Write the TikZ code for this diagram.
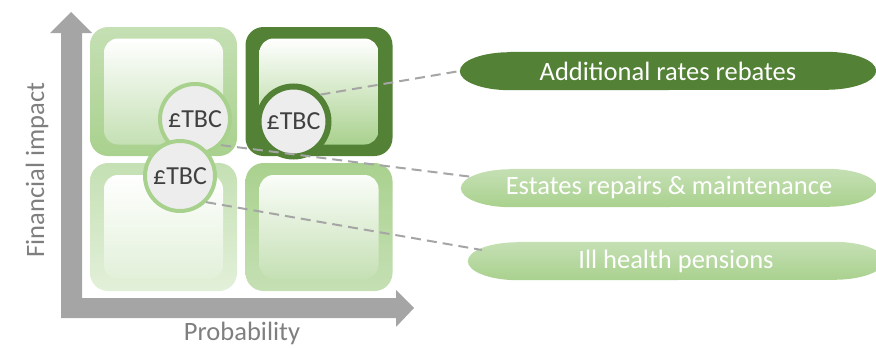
\documentclass[tikz,border=0pt]{standalone}
\usepackage{fontspec}
\setmainfont{Carlito}
\usetikzlibrary{backgrounds}

\definecolor{lgreen}{HTML}{A9D18E}
\definecolor{pgreen}{HTML}{C5E0B4}
\definecolor{vpale}{HTML}{E2F0D9}
\definecolor{dgreen}{HTML}{538135}
\definecolor{axgray}{HTML}{A5A5A5}
\definecolor{labgray}{HTML}{7F7F7F}
\definecolor{txtgray}{HTML}{404040}
\definecolor{circfill}{HTML}{EDEDED}

\newcommand\pill[2]{%
  \path[#2] ([xshift=50pt]#1.north west) -- ([xshift=-50pt]#1.north east)
    arc[start angle=90, end angle=-90, x radius=50pt, y radius=19pt]
    -- ([xshift=50pt]#1.south west)
    arc[start angle=270, end angle=90, x radius=50pt, y radius=19pt] -- cycle;}

\tikzset{
  frame/.style={rounded corners=18pt, minimum width=147pt, minimum height=129pt, inner sep=0pt},
  pane/.style={rounded corners=14pt, minimum width=119pt, minimum height=106pt, inner sep=0pt},
  cost/.style={circle, fill=circfill, line width=4pt, minimum size=70pt, inner sep=0pt,
    text=txtgray, font=\fontsize{26}{26}\selectfont},
  risk/.style={minimum width=416pt, minimum height=38pt, inner sep=0pt,
    text=white, font=\fontsize{26.5}{26.5}\selectfont},
  axislabel/.style={text=labgray, font=\fontsize{26.5}{26.5}\selectfont},
  link/.style={draw=axgray, line width=2pt, dash pattern=on 10pt off 6pt}
}

\begin{document}
\begin{tikzpicture}[x=1pt, y=-1pt]
    \useasboundingbox (0,0) rectangle (876,348);
    \fill[axgray] (61,318) -- (61,33) -- (50,33) -- (71,12) -- (92,33) -- (82,33) -- (82,298)
      -- (396,298) -- (396,290) -- (414,308) -- (396,327) -- (396,318) -- cycle;
    \node[axislabel, rotate=90] (yaxis) at (37,170) {Financial impact};
    \node[axislabel] (xaxis) at (242,333) {Probability};

    \node[frame, top color=pgreen, bottom color=lgreen] (hl) at (163.5,91.5) {};
    \node[pane, top color=white, bottom color=pgreen] at (hl) {};
    \node[frame, fill=dgreen] (hh) at (319,91.5) {};
    \node[pane, top color=white, bottom color=lgreen] at (hh) {};
    \node[frame, minimum height=128pt, top color=pgreen, bottom color=vpale] (ll) at (163.5,227) {};
    \node[pane, minimum height=104pt, top color=white, bottom color=vpale] at (ll) {};
    \node[frame, minimum height=128pt, top color=lgreen, bottom color=pgreen] (lh) at (319,227) {};
    \node[pane, minimum height=104pt, top color=white!92!pgreen, bottom color=pgreen] at (lh) {};

    \node[cost, draw=lgreen] (c1) at (195,119) {£TBC};
    \node[cost, draw=dgreen, line width=6pt] (c2) at (293.5,121.5) {£TBC};
    \node[cost, draw=lgreen] (c3) at (180,176) {£TBC};

    \node[risk] (e1) at (668,71) {Additional rates rebates};
    \node[risk] (e2) at (669,188) {Estates repairs \& maintenance};
    \node[risk] (e3) at (676,261) {Ill health pensions};
    \begin{scope}[on background layer]
      \pill{e1}{fill=dgreen}
      \pill{e2}{top color=pgreen, bottom color=lgreen}
      \pill{e3}{top color=pgreen, bottom color=lgreen}
    \end{scope}
    \coordinate (t2) at ([shift={(12,-11)}]e2.west);
    \coordinate (t3) at ([shift={(14,-11)}]e3.west);

    \draw[link] (c2.north east) -- (e1.west);
    \draw[link] (c1.south east) -- (t2);
    \draw[link] (c3.south east) -- (t3);
  \end{tikzpicture}
\end{document}
